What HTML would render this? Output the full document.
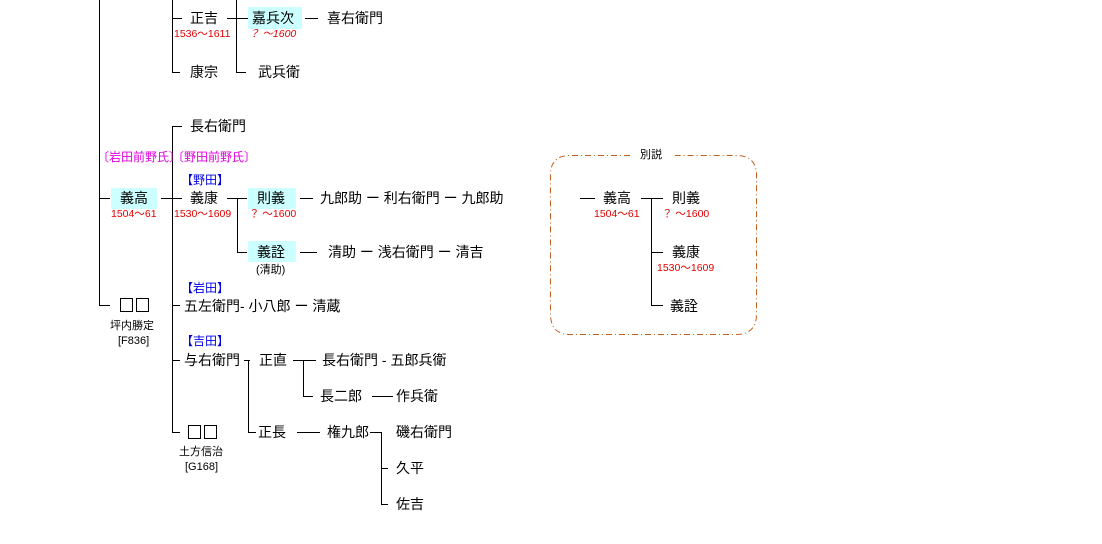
<!DOCTYPE html>
<html><head><meta charset="utf-8"><style>
html,body{margin:0;padding:0;background:#fff;width:1102px;height:544px;overflow:hidden}
svg{display:block}
text{font-family:"Liberation Sans","Noto Sans CJK JP",sans-serif;}
.n{font-size:14px;fill:#000}
.y{font-size:10.5px;fill:#e00000}
.m{font-size:12px;fill:#e000e0}
.b{font-size:12px;fill:#0000e0}
.s{font-size:11px;fill:#000}
</style></head><body>
<svg width="1102" height="544" viewBox="0 0 1102 544">
<g stroke="#000" stroke-width="1" fill="none">
<path d="M99.5 0V305.5H110M99 198.5H110"/>
<path d="M172.5 0V72.5H180M172 18.5H182"/>
<path d="M236.5 0V72.5H246M227 18.5H248M305 18.5H318"/>
<path d="M161 198.5H182M172.5 126V432.5H180M172 126.5H182M172 305.5H180M172 360.5H180"/>
<path d="M227 198.5H247M237.5 198V252.5H247M300 198.5H313M300 252.5H317"/>
<path d="M244 360.5H250M248.5 360V432.5H256M293 360.5H316M303.5 360V396.5H313M372 396.5H393M297 432.5H320M370 432.5H382M381.5 432V504.5H388M381 468.5H388"/>
<path d="M580 198.5H595M641 198.5H663M651.5 198V305.5H663M651 252.5H663"/>
<rect x="120.5" y="298.5" width="12" height="13"/>
<rect x="136.5" y="298.5" width="12" height="13"/>
<rect x="188.5" y="425.5" width="12" height="13"/>
<rect x="204.5" y="425.5" width="12" height="13"/>
</g>
<path d="M630 155.5H570Q550.5 155.5 550.5 175V314Q550.5 334.5 570 334.5H736Q756.5 334.5 756.5 314V175Q756.5 155.5 736 155.5H675" fill="none" stroke="#c06020" stroke-width="1" stroke-dasharray="6,3,1,3"/>
<g fill="#ccffff">
<rect x="248" y="7" width="54" height="22"/>
<rect x="111" y="188" width="46" height="21"/>
<rect x="248" y="188" width="48" height="21"/>
<rect x="248" y="241" width="48" height="21"/>
</g>
<text class="n" x="190" y="23">正吉</text>
<text class="y" x="174" y="37">1536〜1611</text>
<text class="n" x="252" y="23" fill="#555">嘉兵次</text>
<text class="y" x="249" y="37" font-style="italic">？ 〜1600</text>
<text class="n" x="327" y="23">喜右衛門</text>
<text class="n" x="190" y="77">康宗</text>
<text class="n" x="258" y="77">武兵衛</text>
<text class="n" x="190" y="131">長右衛門</text>
<text class="m" x="97" y="161">〔岩田前野氏〕</text>
<text class="m" x="172" y="161">〔野田前野氏〕</text>
<text class="b" x="181" y="184">【野田】</text>
<text class="n" x="120" y="203">義高</text>
<text class="y" x="111" y="217">1504〜61</text>
<text class="n" x="190" y="203">義康</text>
<text class="y" x="174" y="217">1530〜1609</text>
<text class="n" x="257" y="203">則義</text>
<text class="y" x="249" y="217">？ 〜1600</text>
<text class="n" x="320" y="203">九郎助 ー 利右衛門 ー 九郎助</text>
<text class="n" x="257" y="257">義詮</text>
<text class="s" x="256" y="273">(清助)</text>
<text class="n" x="328" y="257">清助 ー 浅右衛門 ー 清吉</text>
<text class="b" x="181" y="292">【岩田】</text>
<text class="s" x="110" y="329">坪内勝定</text>
<text class="s" x="118" y="344">[F836]</text>
<text class="n" x="184" y="311">五左衛門- 小八郎 ー 清蔵</text>
<text class="b" x="181" y="345">【吉田】</text>
<text class="n" x="184" y="365">与右衛門</text>
<text class="n" x="259" y="365">正直</text>
<text class="n" x="322" y="365">長右衛門 - 五郎兵衛</text>
<text class="n" x="320" y="401">長二郎</text>
<text class="n" x="396" y="401">作兵衛</text>
<text class="s" x="179" y="455">土方信治</text>
<text class="s" x="185" y="470">[G168]</text>
<text class="n" x="258" y="437">正長</text>
<text class="n" x="327" y="437">権九郎</text>
<text class="n" x="396" y="437">磯右衛門</text>
<text class="n" x="396" y="473">久平</text>
<text class="n" x="396" y="509">佐吉</text>
<text class="s" x="640" y="158">別説</text>
<text class="n" x="603" y="203">義高</text>
<text class="y" x="594" y="217">1504〜61</text>
<text class="n" x="672" y="203">則義</text>
<text class="y" x="662" y="217">？ 〜1600</text>
<text class="n" x="672" y="257">義康</text>
<text class="y" x="657" y="271">1530〜1609</text>
<text class="n" x="670" y="311">義詮</text>
</svg>
</body></html>
